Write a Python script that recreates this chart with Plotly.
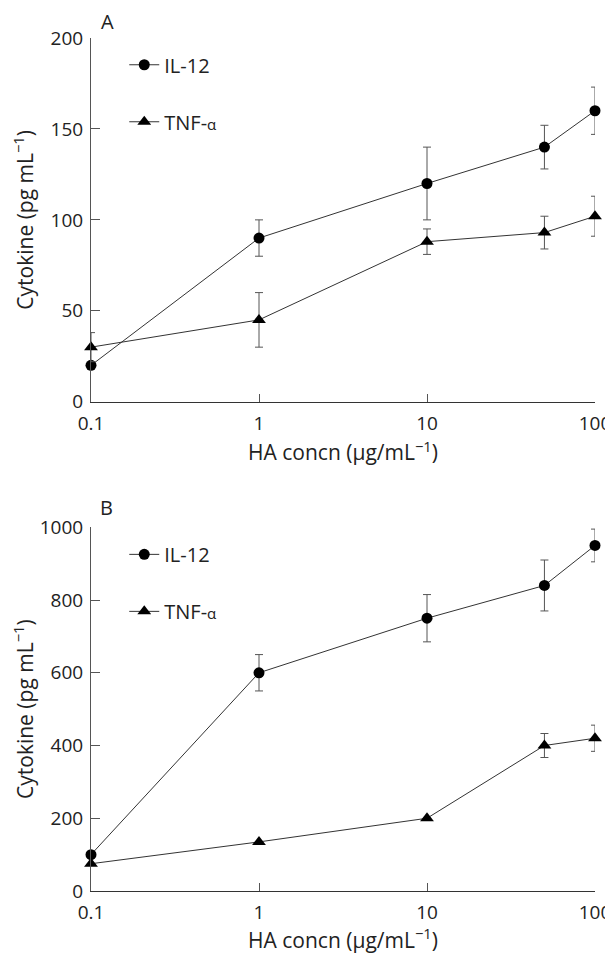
import plotly.graph_objects as go

# ---- data ----
conc = [0.1, 1, 10, 50, 100]

il12_a = [20, 90, 120, 140, 160]
il12_a_err = [0, 10, 20, 12, 13]
tnf_a = [30, 45, 88, 93, 102]
tnf_a_err = [8, 15, 7, 9, 11]

il12_b = [100, 600, 750, 840, 950]
il12_b_err = [0, 50, 65, 70, 45]
tnf_b = [75, 135, 200, 400, 420]
tnf_b_err = [0, 0, 0, 33, 36]

x_ticks = [0.1, 1, 10, 100]
x_ticktext = ["0.1", "1", "10", "100"]

FONT = "Open Sans"
TXT = "#222222"
LINE = "#333333"
AX = "#555555"
TF = 19   # tick font
TT = 21   # title font
LF = 20   # legend font

fig = go.Figure()

def add(xs, ys, err, name, symbol, xa, ya, leg, grp, size):
    fig.add_trace(go.Scatter(
        x=xs, y=ys, name=name, mode="lines+markers",
        line=dict(color=LINE, width=1),
        marker=dict(symbol=symbol, color="black", size=size),
        error_y=dict(type="data", array=err, visible=True, color=AX,
                     thickness=1, width=4),
        xaxis=xa, yaxis=ya, legend=leg, legendgroup=grp, cliponaxis=False,
    ))

alpha = "TNF-<span style='font-size:15px'>α</span>"
add(conc, il12_a, il12_a_err, "IL-12", "circle", "x", "y", "legend", "a1", 11)
add(conc, tnf_a, tnf_a_err, alpha, "triangle-up", "x", "y", "legend", "a2", 12)
add(conc, il12_b, il12_b_err, "IL-12", "circle", "x2", "y2", "legend2", "b1", 11)
add(conc, tnf_b, tnf_b_err, alpha, "triangle-up", "x2", "y2", "legend2", "b2", 12)

# page has an 8px body margin, so the figure is slightly smaller
W, H = 605, 946
ml, mr, mt, mb = 83, 18, 30, 63

def xaxis(anchor):
    return dict(type="log", range=[-1, 2], tickvals=x_ticks, ticktext=x_ticktext,
                ticks="inside", ticklen=8, tickcolor=AX, showline=True,
                linecolor="#333333", linewidth=1, showgrid=False, zeroline=False,
                automargin=False,
                ticklabelstandoff=4, domain=[0, 1], anchor=anchor,
                tickfont=dict(family=FONT, size=TF, color=TXT),
                title=dict(text="HA concn (μg/mL<sup>−1</sup>)",
                           font=dict(family=FONT, size=TT, color=TXT), standoff=3))

def yaxis(anchor, dom, rng, dt, so):
    return dict(ticks="inside", ticklen=9, tickcolor=AX, showline=True,
                linecolor=AX, linewidth=1, showgrid=False, zeroline=False,
                automargin=False,
                ticklabelstandoff=3, domain=dom, anchor=anchor, range=rng, dtick=dt,
                tickfont=dict(family=FONT, size=TF, color=TXT),
                title=dict(text="Cytokine (pg mL<sup>−1</sup>)",
                           font=dict(family=FONT, size=TT, color=TXT), standoff=so))

fig.update_layout(
    width=W, height=H,
    margin=dict(l=ml, r=mr, t=mt, b=mb, autoexpand=False),
    paper_bgcolor="white", plot_bgcolor="white",
    xaxis=xaxis("y"),
    yaxis=yaxis("x", [0.5736, 1.0], [0, 200], 50, 12),
    xaxis2=xaxis("y2"),
    yaxis2=yaxis("x2", [0, 0.4264], [0, 1000], 200, 2),
    legend=dict(x=0.066, y=0.9915, xanchor="left", yanchor="top",
                bgcolor="rgba(0,0,0,0)", tracegroupgap=28,
                font=dict(family=FONT, size=LF, color=TXT)),
    legend2=dict(x=0.066, y=0.4175, xanchor="left", yanchor="top",
                 bgcolor="rgba(0,0,0,0)", tracegroupgap=28,
                 font=dict(family=FONT, size=LF, color=TXT)),
    annotations=[
        dict(text="A", x=0.032, y=1.0188, xref="paper", yref="paper",
             xanchor="center", yanchor="middle",
             showarrow=False, font=dict(family=FONT, size=20, color=TXT)),
        dict(text="B", x=0.030, y=0.450, xref="paper", yref="paper",
             xanchor="center", yanchor="middle",
             showarrow=False, font=dict(family=FONT, size=20, color=TXT)),
    ],
)

fig.write_html("out.html")
